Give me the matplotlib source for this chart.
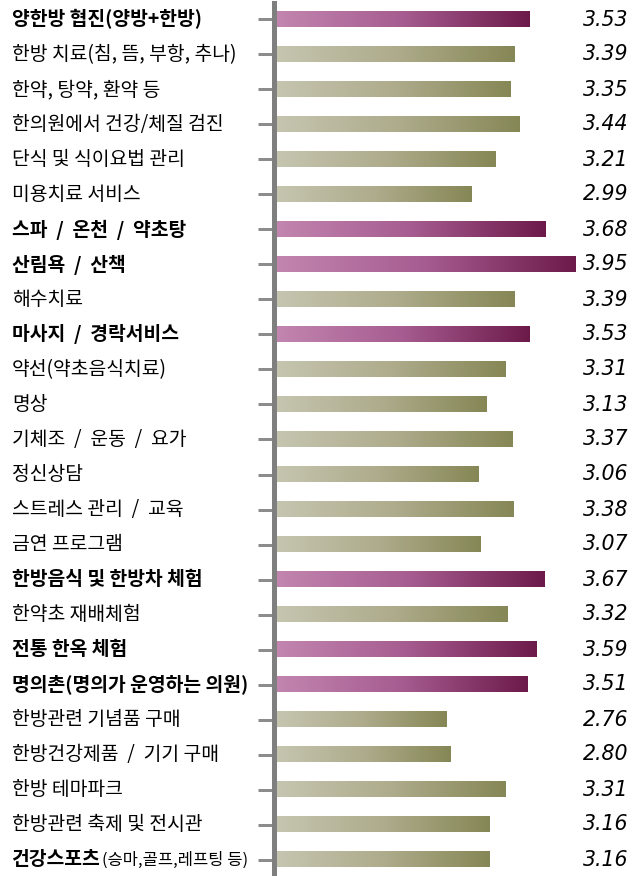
import numpy as np
import matplotlib
matplotlib.use("Agg")
import matplotlib.pyplot as plt
from matplotlib.colors import LinearSegmentedColormap

# ---------------- data ----------------
categories = [
    "양한방 협진(양방+한방)",
    "한방 치료(침, 뜸, 부항, 추나)",
    "한약, 탕약, 환약 등",
    "한의원에서 건강/체질 검진",
    "단식 및 식이요법 관리",
    "미용치료 서비스",
    "스파  /  온천  /  약초탕",
    "산림욕  /  산책",
    "해수치료",
    "마사지  /  경락서비스",
    "약선(약초음식치료)",
    "명상",
    "기체조  /  운동  /  요가",
    "정신상담",
    "스트레스 관리  /  교육",
    "금연 프로그램",
    "한방음식 및 한방차 체험",
    "한약초 재배체험",
    "전통 한옥 체험",
    "명의촌(명의가 운영하는 의원)",
    "한방관련 기념품 구매",
    "한방건강제품  /  기기 구매",
    "한방 테마파크",
    "한방관련 축제 및 전시관",
    "건강스포츠",
]
last_label_suffix = "(승마,골프,레프팅 등)"
scores = [3.53, 3.39, 3.35, 3.44, 3.21, 2.99, 3.68, 3.95, 3.39, 3.53,
          3.31, 3.13, 3.37, 3.06, 3.38, 3.07, 3.67, 3.32, 3.59, 3.51,
          2.76, 2.80, 3.31, 3.16, 3.16]
highlight = [True, False, False, False, False, False, True, True, False, True,
             False, False, False, False, False, False, True, False, True, True,
             False, False, False, False, False]
bold_label = highlight[:-1] + [True]

# ---------------- figure ----------------
W, H = 644, 876
fig = plt.figure(figsize=(W / 100, H / 100), dpi=100)
fig.patch.set_facecolor("white")

ax_left, ax_right = 276, 600
ax_top, ax_bot = 3, 876
ax = fig.add_axes([ax_left / W, (H - ax_bot) / H, (ax_right - ax_left) / W, (ax_bot - ax_top) / H])

base = 1.181
xmax = base + (ax_right - ax_left) / 108.0
n = len(categories)
ypos = np.arange(n)

purple = LinearSegmentedColormap.from_list("pur", ["#c286b0", "#a65c90", "#6c1a4a"])
olive = LinearSegmentedColormap.from_list("oli", ["#c6c5b0", "#aeac8c", "#868756"])
grad = np.linspace(0, 1, 256).reshape(1, -1)

bar_h = 0.43
bars = ax.barh(ypos, np.array(scores) - base, left=base, height=bar_h,
               color="none", edgecolor="none")
for rect, hl in zip(bars, highlight):
    x0, y0 = rect.get_x(), rect.get_y()
    w, h = rect.get_width(), rect.get_height()
    ax.imshow(grad, cmap=purple if hl else olive, aspect="auto",
              extent=(x0, x0 + w, y0 + h, y0), interpolation="bilinear", zorder=2)
ax.set_xlim(base, xmax)
ax.set_ylim(n - 1 + 0.4714, -0.4714)

for s in ["top", "right", "bottom"]:
    ax.spines[s].set_visible(False)
ax.spines["left"].set_color("#7f7f7f")
ax.spines["left"].set_linewidth(5 * 0.72)
ax.spines["left"].set_position(("outward", 2.5 * 0.72))
ax.set_xticks([])
ax.set_yticks(ypos)
ax.set_yticklabels([])
ax.tick_params(axis="y", direction="out", length=16 * 0.72, width=3 * 0.72,
               color="#8c8c8c")
ax.set_facecolor("none")

# value labels
for y, v in zip(ypos, scores):
    fig.text(628 / W, 1 - (19.5 + 35 * y) / H, f"{v:.2f}", ha="right", va="center",
             fontsize=14.8, style="italic", family="DejaVu Sans", color="black")

# category labels
cjk = ["Noto Sans CJK KR", "DejaVu Sans"]
texts = []
for y, lab, b in zip(ypos, categories, bold_label):
    t = fig.text(12 / W, 1 - (19.5 + 35 * y) / H, lab, ha="left", va="center",
                 fontsize=13.9, family=cjk, weight="bold" if b else "normal",
                 color="black")
    texts.append(t)

renderer = fig.canvas.get_renderer()
bb = texts[-1].get_window_extent(renderer=renderer)
fig.text((bb.x1 + 1) / W, 1 - (19.5 + 35 * (n - 1) + 1) / H, last_label_suffix,
         ha="left", va="center", fontsize=11.9, family=cjk, color="black")

fig.savefig("out.png", dpi=100, facecolor="white")
